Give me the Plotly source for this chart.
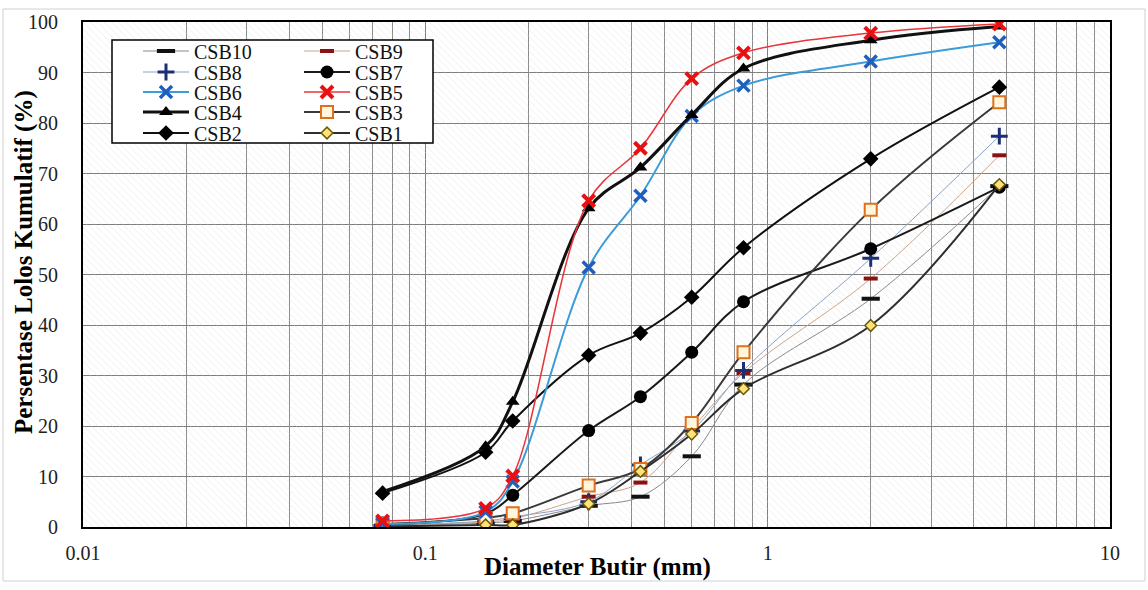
import plotly.graph_objects as go

# ---------------- data ----------------
sieve_mm = [0.075, 0.15, 0.18, 0.3, 0.425, 0.6, 0.85, 2.0, 4.75]

csb1 = [0.1, 0.4, 0.4, 4.6, 11.0, 18.4, 27.4, 39.9, 67.8]
csb2 = [6.7, 14.8, 21.0, 34.0, 38.4, 45.5, 55.3, 72.9, 87.1]
csb3 = [0.6, 1.8, 2.7, 8.2, 11.5, 20.6, 34.6, 62.8, 84.1]
csb4 = [7.0, 16.0, 24.8, 63.1, 71.2, 81.6, 90.8, 96.4, 99.1]
csb5 = [1.2, 3.7, 10.1, 64.6, 75.0, 88.8, 93.9, 97.8, 99.6]
csb6 = [0.6, 3.0, 9.0, 51.4, 65.6, 81.4, 87.4, 92.2, 96.0]
csb7 = [0.5, 2.6, 6.3, 19.1, 25.8, 34.6, 44.6, 55.1, 67.3]
csb8 = [0.4, 1.2, 2.0, 5.0, 12.3, 19.0, 31.0, 53.2, 77.4]
csb9 = [0.3, 1.0, 1.6, 6.0, 8.8, 19.5, 30.5, 49.2, 73.6]
csb10 = [0.2, 0.8, 1.2, 4.2, 6.0, 14.0, 28.2, 45.2, 67.5]

x_tick_vals = [0.01, 0.1, 1, 10]
x_tick_text = ["0.01", "0.1", "1", "10"]
y_tick_vals = [0, 10, 20, 30, 40, 50, 60, 70, 80, 90, 100]

x_title = "<b>Diameter Butir (mm)</b>"
y_title = "<b>Persentase Lolos Kumulatif (%)</b>"

FONT = "Liberation Serif"

# ---------------- layout geometry ----------------
W, H = 1148, 590
L, R, T, B = 83, 38, 22, 63
pw, ph = W - L - R, H - T - B


def px_x(p):
    return (p - L) / pw


def px_y(p):
    return (H - B - p) / ph


series = [
    # name, data, line color, line width, marker symbol, marker size, marker color, marker line color, marker line width
    ("CSB10", csb10, "#8a8a8a", 1, "line-ew", 13, "#111111", "#111111", 4),
    ("CSB9", csb9, "#c9a58a", 1, "line-ew", 10, "#8b1010", "#8b1010", 4),
    ("CSB8", csb8, "#8aa3c4", 1, "cross-thin", 12, "#1b2f72", "#1b2f72", 3),
    ("CSB7", csb7, "#1a1a1a", 2, "circle", 13, "#000000", "#000000", 0),
    ("CSB6", csb6, "#3d9bd8", 2, "x-thin", 12, "#1f5fc0", "#1f5fc0", 3.5),
    ("CSB5", csb5, "#e8343a", 1.5, "x-thin", 12, "#e81010", "#e81010", 4),
    ("CSB4", csb4, "#111111", 3, "triangle-up", 12, "#000000", "#000000", 0),
    ("CSB3", csb3, "#3a3a3a", 2, "square", 12, "#fff6dc", "#e0701c", 2),
    ("CSB2", csb2, "#111111", 2, "diamond", 12, "#000000", "#000000", 0),
    ("CSB1", csb1, "#2e2e2e", 2, "diamond", 9, "#ffe27a", "#6e5a00", 1.5),
]

fig = go.Figure()

# hatched plot background
fig.add_trace(go.Scatter(
    x=[0.01, 10, 10, 0.01, 0.01], y=[0, 0, 100, 100, 0],
    mode="lines", fill="toself", line=dict(width=0),
    fillcolor="rgba(0,0,0,0)",
    fillpattern=dict(shape="\\", fgcolor="#d6d6d6", bgcolor="rgba(0,0,0,0)", size=5, solidity=0.15),
    showlegend=False, hoverinfo="skip",
))

# legend rows (pixel centers) and columns (pixel left)
row_px = [51, 72, 92, 112, 133]
col_px = [138, 299]

draw_order = ["CSB10", "CSB9", "CSB8", "CSB7", "CSB3", "CSB1", "CSB2", "CSB6", "CSB4", "CSB5"]
info = {s[0]: s for s in series}
legend_index = {s[0]: i for i, s in enumerate(series)}

legends = {}
for name in draw_order:
    _, data, lc, lw, sym, ms, mc, mlc, mlw = info[name]
    i = legend_index[name]
    lg = "legend" if i == 0 else f"legend{i + 1}"
    fig.add_trace(go.Scatter(
        x=sieve_mm, y=data, name=name, mode="lines+markers",
        line=dict(color=lc, width=lw, shape="spline", smoothing=1.0),
        marker=dict(symbol=sym, size=ms, color=mc, line=dict(color=mlc, width=mlw)),
        legend=lg,
    ))
    legends[lg] = dict(
        x=px_x(col_px[i % 2]), xanchor="left",
        y=px_y(row_px[i // 2]), yanchor="middle",
        bgcolor="rgba(0,0,0,0)", borderwidth=0,
        font=dict(family=FONT, size=20, color="#111111"),
        itemwidth=46, tracegroupgap=0,
    )

minor_vals = [m * 10 ** e for e in (-2, -1, 0) for m in range(2, 10)]

fig.update_layout(
    width=W, height=H,
    margin=dict(l=L, r=R, t=T, b=B, autoexpand=False),
    paper_bgcolor="white", plot_bgcolor="white",
    font=dict(family=FONT, size=20, color="#111111"),
    showlegend=True,
    **legends,
    xaxis=dict(
        type="log", range=[-2, 1], automargin=False,
        tickmode="array", tickvals=x_tick_vals, ticktext=x_tick_text,
        showgrid=True, gridcolor="#7d7d7d", gridwidth=1,
        minor=dict(tickmode="array", tickvals=minor_vals, showgrid=True, gridcolor="#8a8a8a", gridwidth=1, ticks=""),
        showline=True, linecolor="#000000", linewidth=2, mirror=True,
        ticks="outside", ticklen=7, tickcolor="rgba(0,0,0,0)", zeroline=False,
        tickfont=dict(family=FONT, size=20, color="#222222"),
    ),
    yaxis=dict(
        range=[0, 100], tickmode="array", tickvals=y_tick_vals, automargin=False,
        showgrid=True, gridcolor="#7d7d7d", gridwidth=1,
        showline=True, linecolor="#000000", linewidth=2, mirror=True,
        ticks="outside", ticklen=19, tickcolor="rgba(0,0,0,0)", zeroline=False,
        tickfont=dict(family=FONT, size=20, color="#222222"),
    ),
    annotations=[
        dict(text=x_title, xref="paper", yref="paper", x=px_x(597), y=px_y(567),
             xanchor="center", yanchor="middle", showarrow=False,
             font=dict(family=FONT, size=25, color="#000000")),
        dict(text=y_title, xref="paper", yref="paper", x=px_x(24), y=px_y(262),
             xanchor="center", yanchor="middle", showarrow=False, textangle=-90,
             font=dict(family=FONT, size=25, color="#000000")),
    ],
    shapes=[
        # legend box
        dict(type="rect", xref="paper", yref="paper",
             x0=px_x(112), x1=px_x(433), y0=px_y(143), y1=px_y(40),
             fillcolor="white", line=dict(color="#000000", width=1.5), layer="above"),
        # outer frame
        dict(type="rect", xref="paper", yref="paper",
             x0=px_x(3), x1=px_x(1145), y0=px_y(581), y1=px_y(9),
             fillcolor="rgba(0,0,0,0)", line=dict(color="#d0d0d0", width=1), layer="below"),
    ],
)

fig.write_html("out.html")
